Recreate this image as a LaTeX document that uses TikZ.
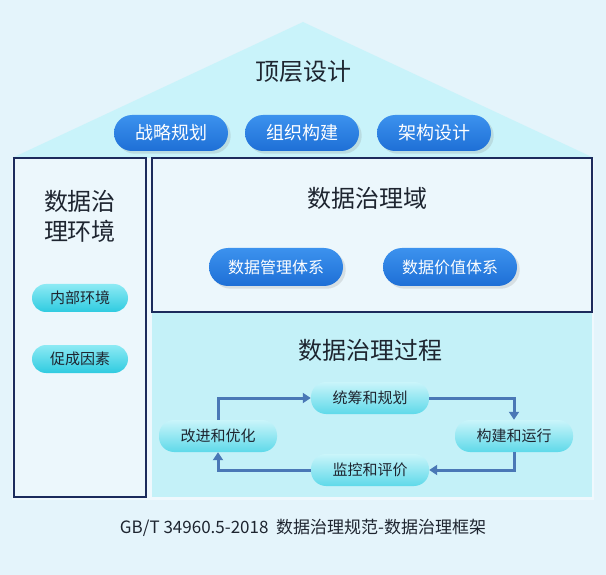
\documentclass[tikz,border=0pt]{standalone}
\usepackage{fontspec}
\setmainfont{Noto Sans CJK SC}
\usetikzlibrary{arrows.meta,shadows}
\definecolor{bg}{HTML}{E4F4FB}
\definecolor{roof}{HTML}{C9F3FA}
\definecolor{navy}{HTML}{1C2B5C}
\definecolor{pblue}{HTML}{1E6FD6}
\definecolor{pblueL}{HTML}{3C92EE}
\definecolor{cyanA}{HTML}{8DEAF4}
\definecolor{cyanB}{HTML}{2FCBE0}
\definecolor{arr}{HTML}{4A78B6}
\definecolor{proc}{HTML}{C4F1F8}
\definecolor{pill}{HTML}{A6EEF7}
\definecolor{tx}{HTML}{1E2530}
\tikzset{x=1pt,y=-1pt,
 bluepill/.style={rounded corners=18pt,minimum height=36pt,minimum width=114pt,text=white,top color=pblueL,bottom color=pblue,font=\fontsize{18}{20}\selectfont,drop shadow={opacity=0.2}},
 cyanpill/.style={rounded corners=14pt,minimum height=28pt,minimum width=96pt,text=tx,top color=cyanA,bottom color=cyanB,font=\fontsize{15}{17}\selectfont},
 procpill/.style={rounded corners=15pt,minimum height=32pt,minimum width=118pt,text=tx,top color=pill!60!white,bottom color=cyanB!60!pill,font=\fontsize{15}{17}\selectfont},
 big/.style={text=tx,font=\fontsize{24}{32}\selectfont},
 flow/.style={draw=arr,line width=3pt,-{Triangle[length=8pt,width=10pt]}},
 frame/.style={draw=navy,line width=2pt}}
\begin{document}
\begin{tikzpicture}
\fill[bg] (0,0) rectangle (606,575);
\fill[roof] (12,158) -- (303,22) -- (594,158) -- cycle;
\fill[white!40!bg] (12,158) rectangle (594,500);
\fill[proc] (152,312) rectangle (592,497);
\draw[frame,fill=white!30!bg] (14,158) rectangle (146,497);
\draw[frame,fill=white!30!bg] (152,158) rectangle (592,312);

\node[big] (top) at (303,72) {顶层设计};
\node[bluepill] (b1) at (171,133) {战略规划};
\node[bluepill] (b2) at (302,133) {组织构建};
\node[bluepill] (b3) at (434,133) {架构设计};

\node[big,align=center] (env) at (80,216) {数据治\\[-2pt]理环境};
\node[cyanpill] (c1) at (80,298) {内部环境};
\node[cyanpill] (c2) at (80,359) {促成因素};

\node[big] (dom) at (367,198) {数据治理域};
\node[bluepill,minimum height=38pt,minimum width=134pt,rounded corners=19pt,font=\fontsize{16}{18}\selectfont] (d1) at (276,267) {数据管理体系};
\node[bluepill,minimum height=38pt,minimum width=134pt,rounded corners=19pt,font=\fontsize{16}{18}\selectfont] (d2) at (450,267) {数据价值体系};

\node[big] (proc) at (370,350) {数据治理过程};
\node[procpill] (p1) at (370,398) {统筹和规划};
\node[procpill] (p2) at (514,436) {构建和运行};
\node[procpill] (p3) at (370,470) {监控和评价};
\node[procpill] (p4) at (218,436) {改进和优化};

\draw[flow] (p4.north) |- (p1.west);
\draw[flow] (p1.east) -| (p2.north);
\draw[flow] (p2.south) |- (p3.east);
\draw[flow] (p3.west) -| (p4.south);

\node[text=tx,font=\fontsize{17}{20}\selectfont] (foot) at (303,528) {GB/T 34960.5-2018\ \ 数据治理规范-数据治理框架};
\end{tikzpicture}
\end{document}
